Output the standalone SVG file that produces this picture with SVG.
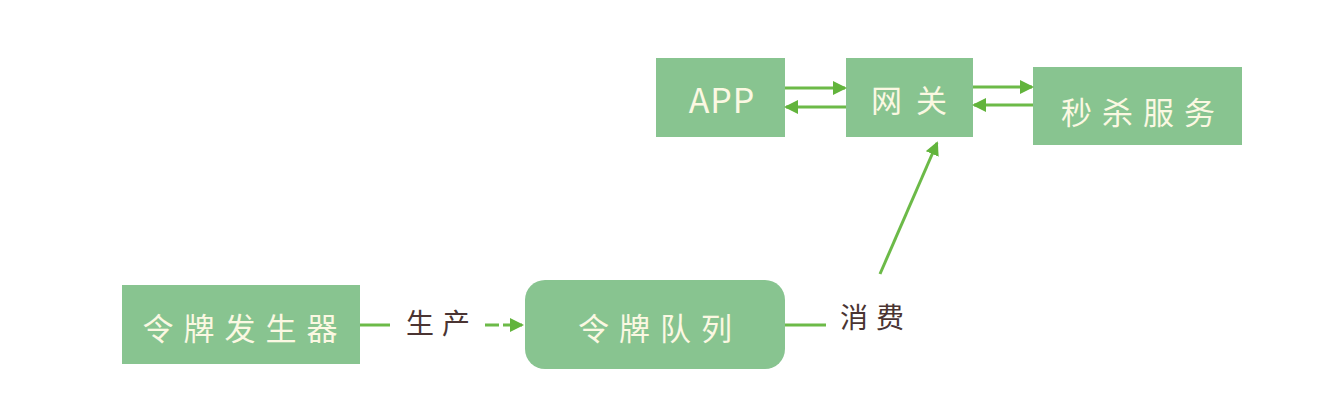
<svg xmlns="http://www.w3.org/2000/svg" width="1322" height="406" viewBox="0 0 1322 406">
<style>
.box{fill:#88c490}
.t{font-family:"Noto Sans CJK SC","Liberation Sans",sans-serif;font-size:31px;fill:#fbf8e2;text-anchor:middle;dominant-baseline:central;letter-spacing:10px}
.lb{font-family:"Noto Sans CJK SC","Liberation Sans",sans-serif;font-size:28px;fill:#4a3432;text-anchor:middle;dominant-baseline:central;letter-spacing:8px}
.c{stroke:#6cba48;stroke-width:3;fill:none}
</style>
<defs>
<marker id="ah" markerWidth="14" markerHeight="14" refX="12" refY="7" orient="auto" markerUnits="userSpaceOnUse">
<path d="M0,0 L14,7 L0,14 Z" fill="#62b43c"/>
</marker>
</defs>
<rect width="1322" height="406" fill="#ffffff"/>
<g id="app"><rect class="box" x="656" y="58" width="129" height="79"/><text class="t" x="722" y="98" style="letter-spacing:1px;font-size:34px">APP</text></g>
<g id="gateway"><rect class="box" x="846" y="58" width="127" height="79"/><text class="t" x="916" y="98" style="letter-spacing:14px">网关</text></g>
<g id="seckill"><rect class="box" x="1033" y="67" width="209" height="78"/><text class="t" x="1143" y="110">秒杀服务</text></g>
<g id="generator"><rect class="box" x="122" y="285" width="238" height="79"/><text class="t" x="245" y="326">令牌发生器</text></g>
<g id="queue"><rect class="box" x="525" y="280" width="260" height="89" rx="20"/><text class="t" x="660" y="326">令牌队列</text></g>
<g id="connectors">
<line class="c" x1="785" y1="88" x2="845" y2="88" marker-end="url(#ah)"/>
<line class="c" x1="846" y1="107" x2="786" y2="107" marker-end="url(#ah)"/>
<line class="c" x1="973" y1="87" x2="1032" y2="87" marker-end="url(#ah)"/>
<line class="c" x1="1033" y1="105" x2="974" y2="105" marker-end="url(#ah)"/>
<line class="c" x1="360" y1="325" x2="390" y2="325"/>
<line class="c" x1="485" y1="325" x2="522" y2="325" stroke-dasharray="14 4" marker-end="url(#ah)"/>
<line class="c" x1="785" y1="325" x2="826" y2="325"/>
<line class="c" x1="880" y1="274" x2="937" y2="143" marker-end="url(#ah)"/>
<text class="lb" x="442" y="322">生产</text>
<text class="lb" x="876" y="316">消费</text>
</g>
</svg>
